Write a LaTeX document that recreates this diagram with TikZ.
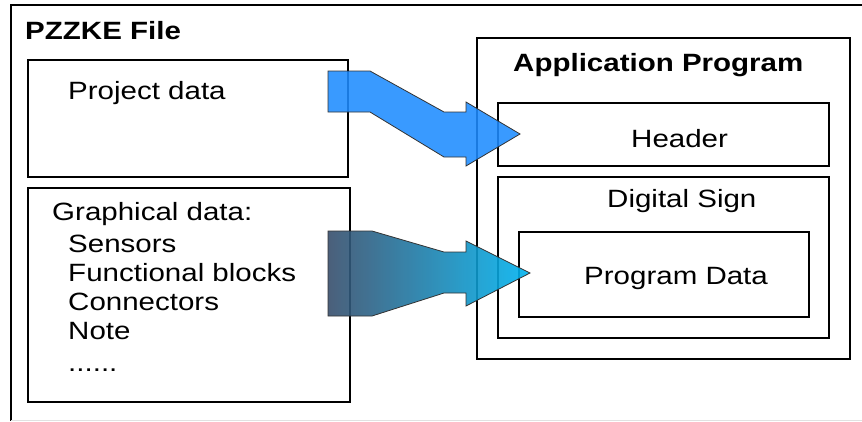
\documentclass[tikz,border=0pt]{standalone}
\usepackage{fontspec}
\setmainfont{Liberation Sans}
\usetikzlibrary{calc}
\definecolor{arrowblue}{RGB}{30,140,255}
\definecolor{arrowdark}{RGB}{55,78,108}
\definecolor{arrowcyan}{RGB}{0,180,240}
\definecolor{edgegray}{RGB}{225,225,225}
\begin{document}
\begin{tikzpicture}[x=1pt,y=1pt,
  box/.style={draw=black,line width=2.6pt,minimum width=#1,inner sep=0,outer sep=0},
  label/.style={inner sep=0,anchor=base west,font=\fontsize{25}{30}\selectfont,xscale=1.18,transform shape},
  boldlabel/.style={label,font=\fontsize{25}{30}\selectfont\bfseries},
  blockarrow/.style={draw=black!80,line width=0.8pt,line join=miter,fill opacity=0.88}]
\useasboundingbox (0,0) rectangle (862,-421);

% outer file frame (open to the right)
\draw[line width=2.6pt] (862,-5) -- (11,-5) -- (11,-421);
\draw[edgegray,line width=1pt] (11,-420) -- (862,-420);
\node[label] (file) at (25,-39) {\bfseries PZZKE File};

% left column
\node[box=320pt,minimum height=117pt] (proj) at (188,-118.5) {};
\node[label] (projt) at (68,-99) {Project data};
\node[box=322pt,minimum height=214pt] (graph) at (189,-295) {};
\node[label] (g0) at (52,-220) {Graphical data:};
\node[label] (g1) at (68,-252) {Sensors};
\node[label] (g2) at (68,-281) {Functional blocks};
\node[label] (g3) at (68,-310) {Connectors};
\node[label] (g4) at (68,-339) {Note};
\node[label] (g5) at (68,-371) {......};

% application program nesting
\node[box=373pt,minimum height=321pt] (app) at (663.5,-198.5) {};
\node[label] (appt) at (513,-71) {\bfseries Application Program};
\node[box=331pt,minimum height=63pt] (hdr) at (663.5,-134.5) {};
\node[label] (hdrt) at (631,-147) {Header};
\node[box=331pt,minimum height=161pt] (dsig) at (663.5,-257.5) {};
\node[label] (dsigt) at (607,-207) {Digital Sign};
\node[box=290pt,minimum height=85pt] (pd) at (664,-274.5) {};
\node[label] (pdt) at (584,-284) {Program Data};

% block arrows, drawn relative to their tips
\coordinate (tip1) at ($(hdr.west)+(22,0.5)$);
\coordinate (tip2) at ($(pd.west)+(11,1.5)$);
\draw[blockarrow,fill=arrowblue,shift={(tip1)}]
  (-192,63) -- (-150,63) -- (-76,22) -- (-54,22) -- (-54,32) -- (0,0)
  -- (-54,-32) -- (-54,-23) -- (-76,-23) -- (-150,22) -- (-192,22) -- cycle;
\path[fill opacity=0.9,left color=arrowdark,right color=arrowcyan,shift={(tip2)}]
  (-202,42) -- (-158,42) -- (-86,21) -- (-64,21) -- (-64,32) -- (0,0)
  -- (-64,-33) -- (-64,-20) -- (-86,-20) -- (-158,-43) -- (-202,-43) -- cycle;
\draw[black!80,line width=0.8pt,line join=miter,shift={(tip2)}]
  (-202,42) -- (-158,42) -- (-86,21) -- (-64,21) -- (-64,32) -- (0,0)
  -- (-64,-33) -- (-64,-20) -- (-86,-20) -- (-158,-43) -- (-202,-43) -- cycle;
\end{tikzpicture}
\end{document}
